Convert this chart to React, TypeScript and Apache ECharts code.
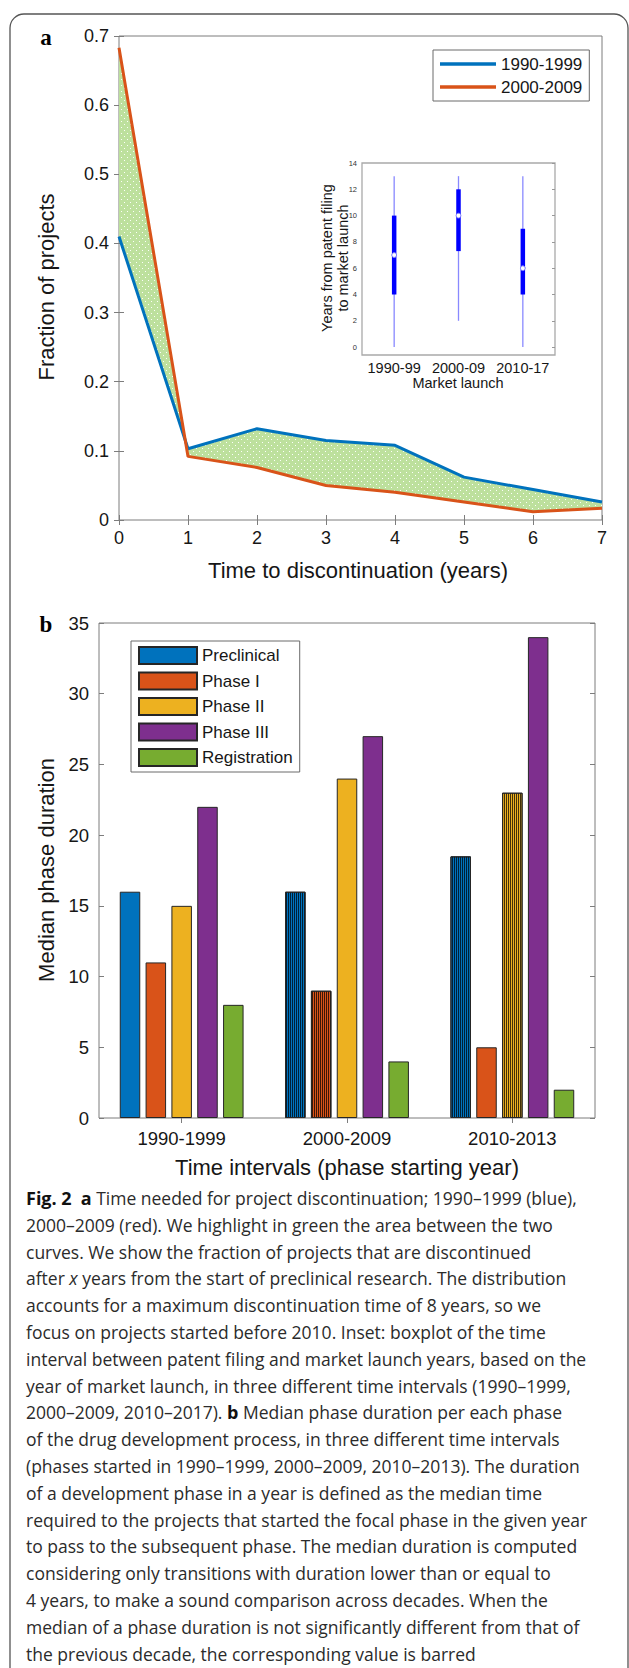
import React, { useEffect, useRef } from 'react';
import * as echarts from 'echarts';

// ---------- Panel a data ----------
const discYears = [0, 1, 2, 3, 4, 5, 6, 7];
const frac1990s = [0.41, 0.103, 0.132, 0.115, 0.108, 0.062, 0.044, 0.026];
const frac2000s = [0.683, 0.092, 0.076, 0.05, 0.04, 0.026, 0.012, 0.017];
const decadeNames = ['1990-1999', '2000-2009'];

// ---------- Inset data ----------
const insetCats = ['1990-99', '2000-09', '2010-17'];
const insetLow = [0, 2, 0];
const insetQ1 = [4, 7.3, 4];
const insetMed = [7, 10, 6];
const insetQ3 = [10, 12, 9];
const insetHigh = [13, 13, 13];
const insetTicks = [0, 2, 4, 6, 8, 10, 12, 14];

// ---------- Panel b data ----------
const intervalsB = ['1990-1999', '2000-2009', '2010-2013'];
const phases = ['Preclinical', 'Phase I', 'Phase II', 'Phase III', 'Registration'];
const preclinical = [16, 16, 18.5];
const phaseI = [11, 9, 5];
const phaseII = [15, 24, 23];
const phaseIII = [22, 27, 34];
const registration = [8, 4, 2];
// 1 = value barred (not significantly different from previous decade)
const preclinicalBarred = [0, 1, 1];
const phaseIBarred = [0, 1, 0];
const phaseIIBarred = [0, 0, 1];
const phaseIIIBarred = [0, 0, 0];
const registrationBarred = [0, 0, 0];

// ---------- Caption ----------
const captionLines = [
  '{b|Fig. 2}  {b|a} Time needed for project discontinuation; 1990–1999 (blue),',
  '2000–2009 (red). We highlight in green the area between the two',
  'curves. We show the fraction of projects that are discontinued',
  'after {i|x} years from the start of preclinical research. The distribution',
  'accounts for a maximum discontinuation time of 8 years, so we',
  'focus on projects started before 2010. Inset: boxplot of the time',
  'interval between patent filing and market launch years, based on the',
  'year of market launch, in three different time intervals (1990–1999,',
  '2000–2009, 2010–2017). {b|b} Median phase duration per each phase',
  'of the drug development process, in three different time intervals',
  '(phases started in 1990–1999, 2000–2009, 2010–2013). The duration',
  'of a development phase in a year is defined as the median time',
  'required to the projects that started the focal phase in the given year',
  'to pass to the subsequent phase. The median duration is computed',
  'considering only transitions with duration lower than or equal to',
  '4 years, to make a sound comparison across decades. When the',
  'median of a phase duration is not significantly different from that of',
  'the previous decade, the corresponding value is barred',
];

const FONT = '"Liberation Sans", Arial, Helvetica, sans-serif';
const SERIF = '"Liberation Serif", "Times New Roman", serif';
const CAPFONT = '"Open Sans", "Noto Sans", sans-serif';
const CAPSIZE = 17.5;
const AX = '#7d7d7d';
const LBL = '#161616';
const COLORS = ['#0072BD', '#D95319', '#EDB120', '#7E2F8E', '#77AC30'];

function makeDotPattern(): any {
  const c = document.createElement('canvas');
  c.width = 6;
  c.height = 6;
  const ctx = c.getContext('2d');
  if (!ctx) return '#c6e4ab';
  ctx.fillStyle = '#bde09d';
  ctx.fillRect(0, 0, 6, 6);
  ctx.fillStyle = 'rgba(255,255,255,0.95)';
  ctx.fillRect(1, 1, 1, 1);
  ctx.fillRect(4, 4, 1, 1);
  return { image: c, repeat: 'repeat' };
}

const barDecal = {
  symbol: 'rect',
  symbolSize: 1,
  color: 'rgba(0,0,0,0.72)',
  dashArrayX: [1, 1],
  dashArrayY: [4, 0],
  rotation: 0,
};

function barData(values: number[], barred: number[]) {
  return values.map((v, i) =>
    barred[i] ? { value: v, itemStyle: { decal: barDecal } } : v
  );
}

export default function App() {
  const ref = useRef<HTMLDivElement>(null);

  useEffect(() => {
    if (!ref.current) return;
    const chart = echarts.init(ref.current, null, { renderer: 'svg' });
    const pattern = makeDotPattern();

    const tickInside = (len: number) => ({
      show: true,
      inside: true,
      length: len,
      lineStyle: { color: AX, width: 1 },
    });

    const bValues = [preclinical, phaseI, phaseII, phaseIII, registration];
    const bBarred = [preclinicalBarred, phaseIBarred, phaseIIBarred, phaseIIIBarred, registrationBarred];

    const captionGraphics = captionLines.map((line, i) => ({
      type: 'text',
      x: 26,
      y: 1198 + i * 26.8,
      silent: true,
      style: {
        text: line,
        fontFamily: CAPFONT,
        fontSize: CAPSIZE,
        fill: '#2b2b2b',
        align: 'left',
        textAlign: 'left',
        verticalAlign: 'middle',
        textVerticalAlign: 'middle',
        rich: {
          b: { fontFamily: CAPFONT, fontSize: CAPSIZE + 0.5, fontWeight: 'bold', fill: '#111' },
          i: { fontFamily: CAPFONT, fontSize: CAPSIZE, fontStyle: 'italic', fill: '#2b2b2b' },
        },
      },
    }));

    const txt = (text: string, x: number, y: number, size: number, opts: any = {}) => ({
      type: 'text',
      x,
      y,
      rotation: opts.rotation || 0,
      silent: true,
      style: {
        text,
        fontFamily: opts.family || FONT,
        fontSize: size,
        fontWeight: opts.weight || 'normal',
        fill: opts.fill || LBL,
        align: 'center',
        textAlign: 'center',
        verticalAlign: 'middle',
        textVerticalAlign: 'middle',
      },
    });

    const option: any = {
      animation: false,
      backgroundColor: '#ffffff',
      grid: [
        { left: 119, top: 36, width: 483, height: 484, show: true, borderColor: AX, borderWidth: 1, backgroundColor: '#fff' },
        { left: 362, top: 163, width: 193, height: 192, show: true, borderColor: '#a9a9a9', borderWidth: 1.3, backgroundColor: '#fff' },
        { left: 99, top: 623, width: 496, height: 495, show: true, borderColor: AX, borderWidth: 1, backgroundColor: '#fff' },
      ],
      xAxis: [
        {
          gridIndex: 0, type: 'value', min: 0, max: 7, interval: 1, position: 'bottom',
          axisLine: { show: false }, axisTick: tickInside(5), splitLine: { show: false },
          axisLabel: { fontFamily: FONT, fontSize: 18, color: LBL, margin: 9 },
        },
        {
          gridIndex: 0, type: 'value', min: 0, max: 7, interval: 1, position: 'top',
          axisLine: { show: false }, axisTick: tickInside(5), splitLine: { show: false },
          axisLabel: { show: false },
        },
        {
          gridIndex: 1, type: 'category', data: insetCats, position: 'bottom',
          axisLine: { show: false }, axisTick: { show: false }, splitLine: { show: false },
          axisLabel: { interval: 0, hideOverlap: false, fontFamily: FONT, fontSize: 14.5, color: LBL, margin: 5 },
        },
        {
          gridIndex: 2, type: 'category', data: intervalsB, position: 'bottom',
          axisLine: { show: false }, axisTick: { ...tickInside(5), alignWithLabel: true }, splitLine: { show: false },
          axisLabel: { interval: 0, fontFamily: FONT, fontSize: 18.5, color: LBL, margin: 11 },
        },
        {
          gridIndex: 2, type: 'category', data: intervalsB, position: 'top',
          axisLine: { show: false }, axisTick: { ...tickInside(5), alignWithLabel: true }, splitLine: { show: false },
          axisLabel: { show: false },
        },
      ],
      yAxis: [
        {
          gridIndex: 0, type: 'value', min: 0, max: 0.7, interval: 0.1, position: 'left',
          axisLine: { show: false }, axisTick: tickInside(5), splitLine: { show: false },
          axisLabel: {
            fontFamily: FONT, fontSize: 18, color: LBL, margin: 10,
            formatter: (v: number) => String(Math.round(v * 10) / 10),
          },
        },
        {
          gridIndex: 0, type: 'value', min: 0, max: 0.7, interval: 0.1, position: 'right',
          axisLine: { show: false }, axisTick: tickInside(5), splitLine: { show: false },
          axisLabel: { show: false },
        },
        {
          gridIndex: 1, type: 'value', min: -0.6, max: 14, position: 'left',
          axisLine: { show: false }, axisTick: { show: false }, splitLine: { show: false },
          axisLabel: { customValues: insetTicks, fontFamily: FONT, fontSize: 7.5, color: '#333', margin: 5 },
        },
        {
          gridIndex: 1, type: 'value', min: -0.6, max: 14, position: 'right',
          axisLine: { show: false }, splitLine: { show: false },
          axisTick: { show: true, inside: true, length: 3, customValues: insetTicks, lineStyle: { color: '#999' } },
          axisLabel: { show: false },
        },
        {
          gridIndex: 2, type: 'value', min: 0, max: 35, interval: 5, position: 'left',
          axisLine: { show: false }, axisTick: tickInside(5), splitLine: { show: false },
          axisLabel: { fontFamily: FONT, fontSize: 18.5, color: LBL, margin: 10 },
        },
        {
          gridIndex: 2, type: 'value', min: 0, max: 35, interval: 5, position: 'right',
          axisLine: { show: false }, axisTick: tickInside(5), splitLine: { show: false },
          axisLabel: { show: false },
        },
      ],
      legend: [
        {
          data: decadeNames.map((n) => ({ name: n, icon: 'rect' })),
          orient: 'vertical', left: 433, top: 50,
          padding: [5.5, 7], itemGap: 6, itemWidth: 56, itemHeight: 3.5,
          backgroundColor: '#fff', borderColor: '#6a6a6a', borderWidth: 1,
          textStyle: { fontFamily: FONT, fontSize: 17, color: LBL },
          selectedMode: false,
        },
        {
          data: phases.map((n) => ({ name: n, icon: 'rect' })),
          orient: 'vertical', left: 131, top: 641,
          padding: [5, 7], itemGap: 6.5, itemWidth: 58, itemHeight: 17,
          backgroundColor: '#fff', borderColor: '#6a6a6a', borderWidth: 1,
          textStyle: { fontFamily: FONT, fontSize: 17, color: LBL },
          selectedMode: false,
        },
      ],
      series: [
        {
          type: 'custom',
          name: 'gap',
          xAxisIndex: 0,
          yAxisIndex: 0,
          silent: true,
          z: 1,
          data: [[0, 0]],
          renderItem: (params: any, api: any) => {
            if (params.dataIndex !== 0) return null;
            const pts: number[][] = [];
            discYears.forEach((x, i) => pts.push(api.coord([x, frac1990s[i]])));
            for (let i = discYears.length - 1; i >= 0; i--) {
              pts.push(api.coord([discYears[i], frac2000s[i]]));
            }
            return {
              type: 'polygon',
              shape: { points: pts },
              style: { fill: pattern, stroke: 'none' },
            };
          },
        },
        {
          type: 'line',
          name: decadeNames[0],
          xAxisIndex: 0, yAxisIndex: 0,
          data: discYears.map((x, i) => [x, frac1990s[i]]),
          color: COLORS[0],
          lineStyle: { width: 3, color: COLORS[0] },
          showSymbol: false, symbol: 'none', z: 3,
        },
        {
          type: 'line',
          name: decadeNames[1],
          xAxisIndex: 0, yAxisIndex: 0,
          data: discYears.map((x, i) => [x, frac2000s[i]]),
          color: COLORS[1],
          lineStyle: { width: 3, color: COLORS[1] },
          showSymbol: false, symbol: 'none', z: 4,
        },
        {
          type: 'custom',
          name: 'inset',
          xAxisIndex: 2,
          yAxisIndex: 2,
          silent: true,
          z: 5,
          data: insetCats.map((_, i) => [i, insetLow[i], insetQ1[i], insetMed[i], insetQ3[i], insetHigh[i]]),
          encode: { x: 0, y: [1, 2, 3, 4, 5] },
          renderItem: (params: any, api: any) => {
            const c = api.value(0);
            const lo = api.coord([c, api.value(1)]);
            const q1 = api.coord([c, api.value(2)]);
            const md = api.coord([c, api.value(3)]);
            const q3 = api.coord([c, api.value(4)]);
            const hi = api.coord([c, api.value(5)]);
            return {
              type: 'group',
              children: [
                { type: 'line', shape: { x1: lo[0], y1: lo[1], x2: hi[0], y2: hi[1] }, style: { stroke: 'rgba(40,40,255,0.55)', lineWidth: 1.3 } },
                { type: 'line', shape: { x1: q1[0], y1: q1[1], x2: q3[0], y2: q3[1] }, style: { stroke: '#0000ff', lineWidth: 4.5 } },
                { type: 'circle', shape: { cx: md[0], cy: md[1], r: 2.4 }, style: { fill: '#ffffff', stroke: '#8080ff', lineWidth: 1 } },
              ],
            };
          },
        },
        ...phases.map((p, k) => ({
          type: 'bar',
          name: p,
          xAxisIndex: 3,
          yAxisIndex: 4,
          barWidth: 20.5,
          barGap: '26%',
          data: barData(bValues[k], bBarred[k]),
          itemStyle: { color: COLORS[k], borderColor: '#262626', borderWidth: 1 },
          z: 3,
        })),
      ],
      graphic: [
        {
          type: 'rect',
          silent: true,
          z: -10,
          shape: { x: 10, y: 14, width: 618, height: 1720, r: 14 },
          style: { fill: 'none', stroke: '#555', lineWidth: 1.3 },
        },
        txt('a', 46, 37, 23, { family: SERIF, weight: 'bold', fill: '#000' }),
        txt('b', 46, 624, 23, { family: SERIF, weight: 'bold', fill: '#000' }),
        txt('Fraction of projects', 46, 287, 22, { rotation: Math.PI / 2 }),
        txt('Time to discontinuation (years)', 358, 570, 22),
        txt('Years from patent filing', 327, 258, 14.5, { rotation: Math.PI / 2 }),
        txt('to market launch', 343, 258, 14.5, { rotation: Math.PI / 2 }),
        txt('Market launch', 458, 383, 14.5),
        txt('Median phase duration', 46, 870, 22, { rotation: Math.PI / 2 }),
        txt('Time intervals (phase starting year)', 347, 1167, 22),
        ...captionGraphics,
      ],
    };

    chart.setOption(option);
    return () => {
      chart.dispose();
    };
  }, []);

  return (
    <div
      ref={ref}
      style={{ position: 'absolute', left: 0, top: 0, width: 629, height: 1668, background: '#fff' }}
    />
  );
}
